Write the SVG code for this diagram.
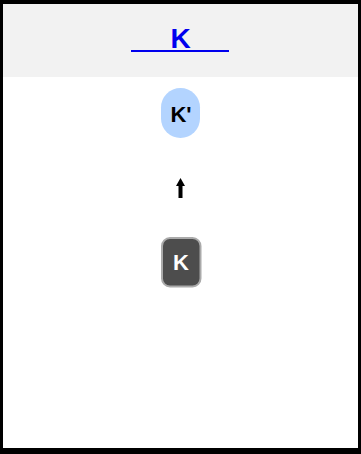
<svg xmlns="http://www.w3.org/2000/svg" width="361" height="454" viewBox="0 0 361 454">
<style>
.lbl{font-family:"Liberation Sans",Arial,sans-serif;font-weight:bold;text-anchor:middle}
</style>
<rect x="0" y="0" width="361" height="454" fill="#000"/>
<rect x="3" y="4" width="355" height="444" fill="#fff"/>
<g id="header">
<rect x="3" y="4" width="355" height="73" fill="#f2f2f2"/>
<text class="lbl" x="180.5" y="48" font-size="28" fill="#0000ee">K</text>
<rect x="131" y="50" width="98" height="2" fill="#0000ee"/>
</g>
<g id="connectors">
<path d="M180.5 178 L185 186 L182.5 186 L182.5 198 L178.5 198 L178.5 186 L176 186 Z" fill="#000"/>
</g>
<g id="node-kprime">
<rect x="161" y="88" width="39" height="50" rx="19.5" ry="19.5" fill="#b3d4ff"/>
<text class="lbl" x="181" y="122" font-size="22" fill="#000">K'</text>
</g>
<g id="node-k">
<rect x="162" y="238" width="38.5" height="48.5" rx="8" ry="8" fill="#4d4d4d" stroke="#aaaaaa" stroke-width="2"/>
<text class="lbl" x="181" y="270" font-size="22" fill="#fff">K</text>
</g>
</svg>
